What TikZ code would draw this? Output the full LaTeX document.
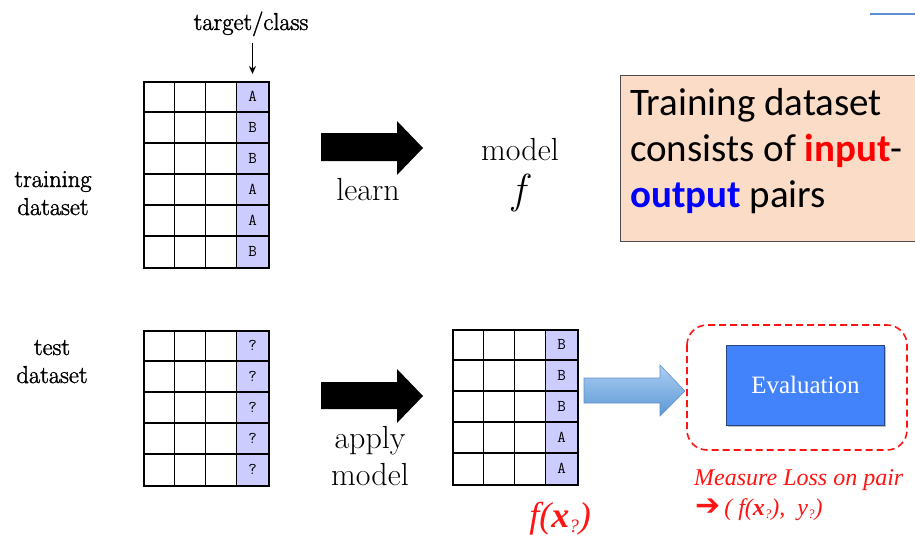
\documentclass[tikz,border=0pt]{standalone}
\usepackage{fontspec}
\usetikzlibrary{arrows.meta}
\newfontfamily\calfont{Carlito}
\newfontfamily\tnrfont{Liberation Serif}
\newfontfamily\djvfont{DejaVu Sans}
\newfontfamily\labfont[FakeBold=1.5]{Latin Modern Roman}
\definecolor{classfill}{RGB}{204,204,255}
\definecolor{notefill}{RGB}{251,220,198}
\definecolor{evalfill}{RGB}{66,130,250}
\definecolor{evalborder}{RGB}{40,70,130}
\definecolor{linkblue}{RGB}{91,143,208}
\definecolor{arrowtop}{RGB}{172,206,242}
\definecolor{arrowbot}{RGB}{92,152,214}
\definecolor{arrowedge}{RGB}{100,145,200}
\definecolor{lossred}{RGB}{255,20,20}
\tikzset{
  gridline/.style={draw=black, line width=1.1pt},
  tableframe/.style={draw=black, line width=2.2pt, minimum width=125pt, inner sep=0pt},
  cellletter/.style={font=\ttfamily\fontsize{16.5}{18}\selectfont, inner sep=0pt},
  sidelabel/.style={font=\labfont\fontsize{24.5}{28}\selectfont, align=center, inner sep=0pt},
  bigword/.style={font=\fontsize{32}{37}\selectfont, align=center, inner sep=0pt},
  blockarrow/.style={fill=black},
}
\newcommand{\mktable}[5]{%
  \fill[classfill] ({#2+94},#3) rectangle ({#2+125},{#3+31*#4});
  \foreach \k in {1,2,3} \draw[gridline] ({#2+31.25*\k},#3) -- ({#2+31.25*\k},{#3+31*#4});
  \pgfmathtruncatemacro\nrows{#4-1}
  \foreach \k in {1,...,\nrows} \draw[gridline] (#2,{#3+31*\k}) -- ({#2+125},{#3+31*\k});
  \node[tableframe, minimum height={31*#4}, anchor=north west] (#1) at (#2,#3) {};
  \foreach [count=\i] \l in {#5} \node[cellletter] (#1\i) at ({#2+109.5},{#3+31*\i-15.5}) {\l};
}
\begin{document}
\begin{tikzpicture}[x=1pt,y=-1pt]
\useasboundingbox (0,0) rectangle (915,538);
\fill[white] (0,0) rectangle (915,538);

% top-right rule
\draw[linkblue, line width=2.5pt] (870,14) -- (916,14);

% tables
\mktable{train}{143}{81}{6}{A,B,B,A,A,B}
\mktable{test}{143}{330}{5}{?,?,?,?,?}
\mktable{pred}{452}{329}{5}{B,B,B,A,A}

% labels
\node[sidelabel, anchor=base] (tc) at (251,30) {target/class};
\coordinate (clstop) at (252.5,74);
\draw[line width=1.1pt, -{Stealth[length=8pt,width=7pt]}] (252.5,43) -- (clstop);
\node[sidelabel, anchor=base] (trainlab) at (53,215) {training\\dataset};
\node[sidelabel, anchor=base] (testlab) at (52,383) {test\\dataset};

% black arrows
\fill[blockarrow] (321,133) -- (397,133) -- (397,121) -- (423,148) -- (397,175) -- (397,161) -- (321,161) -- cycle;
\fill[blockarrow] (321,382) -- (397,382) -- (397,369) -- (423,396) -- (397,423) -- (397,409) -- (321,409) -- cycle;
\node[bigword, anchor=base] (learn) at (368,200) {learn};
\node[bigword, anchor=base] (apply) at (370,448) {apply};
\node[bigword, anchor=base] (applym) at (370,485) {model};
\node[bigword, anchor=base] (model) at (520,160) {model};
\node[anchor=base, inner sep=0pt, font=\fontsize{42}{44}\selectfont\itshape] (fmod) at (519,203) {f};

% note box
\fill[notefill] (620,75) rectangle (917,241);
\draw[black!70, line width=1pt] (917,75) -- (620,75) -- (620,241) -- (917,241);
\node[anchor=base west, inner sep=0pt, align=left, font=\calfont\fontsize{39}{46}\selectfont] (note) at (630,207)
  {Training dataset\\consists of \textcolor{red}{\bfseries input}-\\\textcolor{blue}{\bfseries output} pairs};

% blue block arrow
\shade[top color=arrowtop, bottom color=arrowbot, draw=arrowedge, line width=0.6pt]
  (584,378) -- (660,378) -- (660,365) -- (685,391) -- (660,416) -- (660,403) -- (584,403) -- cycle;

% evaluation
\draw[lossred, line width=1.6pt, dash pattern=on 7pt off 4pt, rounded corners=20pt] (687,325) rectangle (907,450);
\fill[black!25] (728,347) rectangle (886,427);
\node[fill=evalfill, draw=evalborder, line width=0.8pt, minimum width=158pt, minimum height=80pt, anchor=north west,
      text=white, font=\tnrfont\fontsize{25}{30}\selectfont] (eval) at (726,345) {Evaluation};

% red texts
\node[anchor=base west, inner sep=0pt, text=lossred, font=\tnrfont\itshape\fontsize{24}{28}\selectfont] (loss1) at (694,485) {Measure Loss on pair};
\node[anchor=base west, inner sep=0pt, text=lossred, font=\tnrfont\itshape\fontsize{24}{28}\selectfont] (loss2) at (695,515)
  {{\djvfont\bfseries\fontsize{30}{30}\selectfont ➔}\,( f(\textbf{x}\raisebox{-0.35ex}{\fontsize{13}{14}\selectfont ?}),\ \ y\raisebox{-0.35ex}{\fontsize{13}{14}\selectfont ?})};
\node[anchor=base, inner sep=0pt, text=lossred, font=\tnrfont\itshape\fontsize{36}{40}\selectfont] (fx) at (560,527)
  {f(\textbf{x}\raisebox{-0.35ex}{\fontsize{19}{20}\selectfont ?})};
\end{tikzpicture}
\end{document}
